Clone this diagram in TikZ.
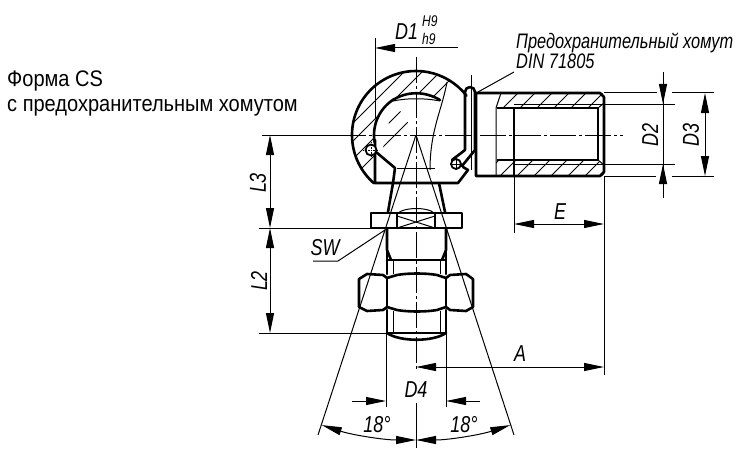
\documentclass[tikz,border=0pt]{standalone}
\usepackage{fontspec}
\setmainfont{Liberation Sans}
\newfontfamily\itfont[FakeStretch=0.78,ItalicFont={Liberation Sans Italic}]{Liberation Sans}
\newfontfamily\upfont[FakeStretch=0.89]{Liberation Sans}
\usetikzlibrary{arrows.meta}
\tikzset{
  thk/.style={line width=2.6pt,line join=round,line cap=round},
  thn/.style={line width=1pt},
  hatchl/.style={line width=1pt},
  dimline/.style={line width=1pt},
  ctr/.style={line width=0.9pt,dash pattern=on 26pt off 3pt on 3pt off 3pt},
  tip/.style={-{Stealth[length=20pt,width=8pt,inset=0pt]}},
  tips/.style={{Stealth[length=20pt,width=8pt,inset=0pt]}-{Stealth[length=20pt,width=8pt,inset=0pt]}},
  lab/.style={inner sep=0pt,font=\itfont\itshape\fontsize{23}{23}\selectfont},
  note/.style={inner sep=0pt,anchor=base west,font=\itfont\itshape\fontsize{21}{21}\selectfont},
  head/.style={inner sep=0pt,anchor=base west,font=\upfont\fontsize{22.5}{22.5}\selectfont},
  sups/.style={inner sep=0pt,anchor=base west,font=\itfont\itshape\fontsize{15.5}{15.5}\selectfont},
}
\begin{document}
\begin{tikzpicture}[x=1pt,y=1pt]
\useasboundingbox (0,0) rectangle (750,-452);
\fill[white] (0,0) rectangle (750,-452);
\coordinate (ball) at (416,-135);
% hatching ball
\begin{scope}
\clip (ball) ++(229:64pt) arc[start angle=229,end angle=50,radius=64pt]
  -- (448,-82) -- (440,-100) .. controls (425,-90) and (407,-90) .. (393,-100)
  -- (ball) ++(121:42pt) arc[start angle=121,end angle=190,radius=42pt] -- (375,-183) -- cycle;
\foreach \hx in {150,168,...,330}{\draw[hatchl] (\hx,-200) -- ++(130,130);}
\end{scope}
% hatching housing
\begin{scope}
\clip (501,-93) -- (602,-93) -- (604,-95) -- (604,-104) -- (598,-108) -- (496,-108) -- cycle;
\foreach \hx in {360,377,...,620}{\draw[hatchl] (\hx,-200) -- ++(130,130);}
\end{scope}
\begin{scope}
\clip (496,-160) -- (598,-160) -- (604,-164) -- (604,-174) -- (602,-176) -- (496,-176) -- cycle;
\foreach \hx in {340,357,...,600}{\draw[hatchl] (\hx,-200) -- ++(130,130);}
\end{scope}
\begin{scope}
\clip (465,-150) -- (452,-160) -- (462,-166) -- (476,-148) -- cycle;
\foreach \hx in {310,318,...,350}{\draw[hatchl] (\hx,-200) -- ++(130,130);}
\end{scope}
% centre lines
\draw[ctr] (340,-135) -- (623,-135);
\draw[ctr] (416,-57) -- (416,-372);
\draw[thn] (416,-403) -- (416,-448);
\draw[thn] (471,-75) -- (471,-170);
% ball outline
\draw[thk] (ball) ++(229:64pt) arc[start angle=229,end angle=38,radius=64pt];
\draw[thk] (ball) ++(190:42pt) arc[start angle=190,end angle=121,radius=42pt];
\draw[thk] (393,-100) .. controls (407,-91) and (425,-91) .. (440,-100);
\draw[thn] (393,-101) .. controls (407,-98) and (425,-98) .. (440,-101);
\draw[thn] (447,-82) .. controls (442,-110) and (430,-130) .. (430,-170);
\draw[thk] (375,-140) -- (375,-183) -- (458,-183) -- (468,-170) -- (463,-167);
\draw[thk] (376,-152) -- (395,-168) -- (393,-183);
\draw[thn] (397,-168) -- (435,-168);
% small pin in ball
\draw[line width=1.8pt,fill=white] (371,-150) circle[radius=5.5pt];
\draw[line width=0.6pt,densely dotted] (363,-150) -- (379,-150) (371,-142) -- (371,-158);
% clip
\draw[thk] (452,-160) -- (465,-150) -- (465,-92) arc[start angle=180,end angle=0,radius=5pt] -- (475,-150) -- (462,-166);
\draw[line width=1.8pt,fill=white] (456,-164) circle[radius=5pt];
\draw[thin] (456,-158) -- (456,-170) (450,-164) -- (462,-164);
% housing
\draw[thk] (476,-93) -- (600,-93) -- (604,-97) -- (604,-172) -- (600,-176) -- (476,-176) -- cycle;
\draw[thk] (514,-176) -- (514,-108) -- (598,-108) -- (598,-160) -- (514,-160);
\draw[line width=1.5pt] (514,-108) -- (497,-108) (514,-160) -- (497,-160);
\draw[thn] (501,-93) -- (496,-108) -- (496,-176);
\draw[thn] (514,-104) -- (604,-104) (514,-164) -- (604,-164);
\draw[thn] (598,-108) -- (604,-103) (598,-160) -- (604,-165);
% stem
\draw[thk] (393,-183) -- (388,-212) (439,-183) -- (445,-212);
\draw[thk] (371,-213) rectangle (462,-228);
\draw[thk] (397,-213) -- (397,-228) (435,-213) -- (435,-228);
\draw[thn] (398,-213) .. controls (405,-207) and (428,-207) .. (434,-213);
\draw[thn] (397,-216) -- (435,-228) (397,-228) -- (435,-216);
\draw[thk] (387,-228) -- (387,-250) -- (391,-260) (446,-228) -- (446,-250) -- (442,-260);
\draw[thk] (387,-250) -- (387,-274) (446,-250) -- (446,-274) (388,-260) -- (445,-260);
\draw[thn] (393,-260) -- (393,-274) (440,-260) -- (440,-274);
% nut
\draw[thk] (359,-279) -- (367,-274) -- (383,-275) -- (387,-278) -- (397,-275) .. controls (408,-273) and (426,-273) .. (437,-275)
  -- (446,-278) -- (450,-275) -- (466,-274) -- (473,-279) -- (473,-307) -- (466,-311) -- (450,-310) -- (446,-307) -- (437,-310)
  .. controls (426,-312) and (408,-312) .. (397,-310) -- (387,-307) -- (383,-310) -- (367,-311) -- (359,-307) -- cycle;
\draw[thk] (387,-278) -- (387,-307) (446,-278) -- (446,-307);
\draw[thk] (387,-310) -- (387,-333) (446,-310) -- (446,-333);
\draw[thn] (393,-311) -- (393,-333) (440,-311) -- (440,-333);
\draw[thk] (387,-333) -- (446,-333);
\draw[thk] (387,-333) .. controls (400,-342) and (433,-342) .. (446,-333);
% cone
\coordinate (apex) at (416,-135);
\coordinate (coneL) at (318,-435);
\coordinate (coneR) at (514,-435);
\draw[thn] (apex) -- (coneL) (apex) -- (coneR);
% D1
\coordinate (d1a) at (375,-48); \coordinate (d1b) at (458,-48);
\draw[thn] (375,-38) -- (375,-118);
\draw[dimline,tip] (d1b) -- (d1a);
\node[lab,anchor=base west] (d1t) at (395,-40) {D1};
\node[sups] (h9a) at (422,-27) {H9};
\node[sups] (h9b) at (422,-44.5) {h9};
% notes
\node[note] (n1) at (516,-49) {Предохранительный хомут};
\node[note] (n2) at (516,-69) {DIN 71805};
\coordinate (lead) at (514,-72);
\draw[thn] (lead) -- (478,-92);
\node[head] (h1) at (7,-86) {Форма CS};
\node[head] (h2) at (7,-111) {с предохранительным хомутом};
% D2
\draw[thn] (604,-104) -- (675,-104) (604,-164) -- (675,-164);
\draw[thn] (663,-72) -- (663,-198);
\draw[dimline,tip] (663,-80) -- (663,-104);
\draw[dimline,tip] (663,-190) -- (663,-164);
\node[lab,rotate=90] (d2t) at (650,-135) {D2};
% D3
\draw[thn] (604,-93) -- (657,-93) (672,-93) -- (714,-93) (604,-176) -- (656,-176) (672,-176) -- (714,-176);
\draw[dimline,tip] (705,-135) -- (705,-93);
\draw[dimline,tip] (705,-135) -- (705,-176);
\node[lab,rotate=90] (d3t) at (691,-135) {D3};
% E
\draw[thn] (514,-176) -- (514,-233);
\draw[thn] (604,-176) -- (604,-375);
\draw[dimline,tip] (559,-224) -- (514,-224);
\draw[dimline,tip] (559,-224) -- (604,-224);
\node[lab] (et) at (560,-212) {E};
% A
\draw[dimline,tip] (510,-367) -- (416,-367);
\draw[dimline,tip] (510,-367) -- (604,-367);
\node[lab] (at) at (520,-354) {A};
% D4
\draw[thn] (386,-333) -- (386,-407) (446,-333) -- (446,-407);
\draw[dimline,tip] (352,-401) -- (386,-401);
\draw[dimline,tip] (480,-401) -- (446,-401);
\node[lab] (d4t) at (416,-390) {D4};
% 18 deg
\draw[dimline,tips] (apex) ++(252:305pt) arc[start angle=252,end angle=270,radius=305pt];
\draw[dimline,tips] (apex) ++(270:305pt) arc[start angle=270,end angle=288,radius=305pt];
\node[lab] (a1) at (377,-425) {18°};
\node[lab] (a2) at (464,-425) {18°};
% L dims
\draw[thn] (262,-135) -- (350,-135);
\draw[thn] (259,-228) -- (371,-228);
\draw[thn] (259,-333) -- (387,-333);
\draw[dimline,tip] (270,-182) -- (270,-135);
\draw[dimline,tip] (270,-182) -- (270,-228);
\draw[dimline,tip] (270,-280) -- (270,-228);
\draw[dimline,tip] (270,-280) -- (270,-333);
\node[lab,rotate=90] (l3t) at (258,-183) {L3};
\node[lab,rotate=90] (l2t) at (259,-281) {L2};
% SW
\node[lab] (sw) at (325,-248) {SW};
\coordinate (sw1) at (385,-230); \coordinate (sw2) at (338,-261); \coordinate (sw3) at (313,-261);
\draw[thn] (sw1) -- (sw2) -- (sw3);
\end{tikzpicture}
\end{document}
